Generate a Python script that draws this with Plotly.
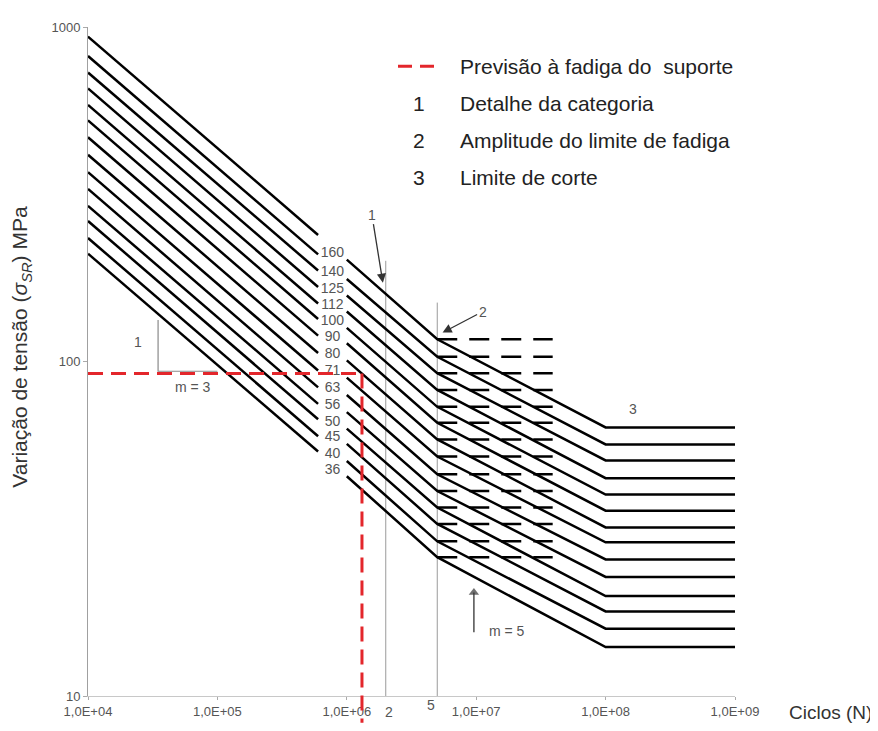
import math
import plotly.graph_objects as go

# ---------------- data ----------------
categories = [160, 140, 125, 112, 100, 90, 80, 71, 63, 56, 50, 45, 40, 36]
n_left = [1e4, 6e5]                  # cycles of the left (m=3) segment
n_right = [1e6, 5e6, 1e8, 1e9]       # cycles of the right segment (m=3, m=5, cut-off)
stress_1e4 = [936, 819, 731, 655, 585, 526, 468, 415, 368, 328, 292, 263, 234, 210]
stress_6e5 = [239, 209, 187, 167, 149, 134, 119.5, 106, 94, 83.7, 74.7, 67.2, 59.8, 53.8]
stress_1e6 = [201.6, 176.4, 157.5, 141.1, 126, 113.4, 100.8, 89.5, 79.4, 70.6, 63, 56.7, 50.4, 45.4]
stress_knee = [116.5, 103.3, 92.3, 82.2, 73.2, 65.6, 58.5, 52, 46, 41, 36.6, 32.7, 29, 26]
stress_cut = [63.5, 56.5, 50.6, 44.8, 40, 35.8, 31.9, 28.8, 25.6, 22.7, 19.9, 17.9, 15.9, 14]
dash_range_n = [5e6, 3.9e7]          # dashed constant-amplitude limit lines
ref_lines_n = [2e6, 5e6]             # thin vertical reference lines
ref_lines_top = [200, 150]
pred_n = 1.31e6                      # support fatigue prediction
pred_s = 92

x_tickvals = [1e4, 1e5, 1e6, 1e7, 1e8, 1e9]
x_ticktext = ["1,0E+04", "1,0E+05", "1,0E+06", "1,0E+07", "1,0E+08", "1,0E+09"]
y_tickvals = [10, 100, 1000]
y_ticktext = ["10", "100", "1000"]

legend_items = [("1", "Detalhe da categoria"),
                ("2", "Amplitude do limite de fadiga"),
                ("3", "Limite de corte")]
legend_pred = "Previsão à fadiga do  suporte"

# ---------------- figure ----------------
# page body has an 8px margin; the figure is sized so the plot area lands
# at x 88..735, y 20..700 of the 878x731 window
OFF = 8
W, H = 878 - OFF, 731 - OFF
PL, PR, PT, PB = 88, 735, 20, 700          # plot area in window pixels
L, T = PL - OFF, PT - OFF
R, B = 878 - PR, 731 - PB
PW, PH = PR - PL, PB - PT
sans = "Liberation Sans, Arial, sans-serif"
gray = "#555555"
LW = 2.5

fig = go.Figure()

# thin vertical reference lines
for n, top in zip(ref_lines_n, ref_lines_top):
    fig.add_trace(go.Scatter(x=[n, n], y=[top, 10], mode="lines",
                             line=dict(color="#9a9a9a", width=1),
                             hoverinfo="skip", showlegend=False))

# dashed constant amplitude lines
for s in stress_knee:
    fig.add_trace(go.Scatter(x=dash_range_n, y=[s, s], mode="lines",
                             line=dict(color="black", width=LW, dash="20px,12px"),
                             hoverinfo="skip", showlegend=False))

# S-N curves
for c, a, b, d, k, cut in zip(categories, stress_1e4, stress_6e5, stress_1e6,
                               stress_knee, stress_cut):
    xs = n_left + [None] + n_right
    ys = [a, b, None, d, k, cut, cut]
    fig.add_trace(go.Scatter(x=xs, y=ys, mode="lines",
                             line=dict(color="black", width=LW),
                             connectgaps=False, name=str(c),
                             hoverinfo="skip", showlegend=False))

# category labels in the gap
lab_x = [math.sqrt(n_left[1] * n_right[0])] * len(categories)
lab_y = [b ** 0.25 * d ** 0.75 for b, d in zip(stress_6e5, stress_1e6)]
fig.add_trace(go.Scatter(x=lab_x, y=lab_y, mode="text",
                         text=[str(c) for c in categories],
                         textfont=dict(family=sans, size=14, color=gray),
                         hoverinfo="skip", showlegend=False, cliponaxis=False))

# m = 3 slope triangle
tri_x = [3.48e4, 3.48e4, 1.0e5]
tri_y = [133, 93.5, 93.5]
fig.add_trace(go.Scatter(x=tri_x, y=tri_y, mode="lines",
                         line=dict(color="#8a8a8a", width=1.2),
                         hoverinfo="skip", showlegend=False))

# m = 5 arrow
fig.add_trace(go.Scatter(x=[9.6e6, 9.6e6], y=[15.5, 20.4], mode="lines+markers",
                         line=dict(color="#333", width=1.3),
                         marker=dict(symbol=["circle", "triangle-up"], size=[0, 9],
                                     color="#333", line=dict(width=0)),
                         hoverinfo="skip", showlegend=False))

red = "#e3262b"
shapes = [
    dict(type="line", xref="x", yref="y", x0=x_tickvals[0], x1=pred_n,
         y0=pred_s, y1=pred_s, line=dict(color=red, width=3, dash="15px,8px"),
         layer="above"),
    dict(type="line", xref="x", yref="paper", x0=pred_n, x1=pred_n,
         y0=(math.log10(pred_s) - 1) / 2, y1=-0.04,
         line=dict(color=red, width=3, dash="15px,8px"), layer="above"),
]


def px_x(p):
    return (p - PL) / PW


def px_y(p):
    return (PB - p) / PH


# legend sample
shapes.append(dict(type="line", xref="paper", yref="paper",
                   x0=px_x(398), x1=px_x(434), y0=px_y(60), y1=px_y(60),
                   line=dict(color=red, width=3, dash="14px,8px")))

ann = []
leg_font = dict(family=sans, size=21, color="#222")
ann.append(dict(xref="paper", yref="paper", x=px_x(458), y=px_y(60), text=legend_pred,
                showarrow=False, xanchor="left", yanchor="middle", font=leg_font))
for (num, txt), yy in zip(legend_items, [98, 135, 173]):
    ann.append(dict(xref="paper", yref="paper", x=px_x(419), y=px_y(yy), text=num,
                    showarrow=False, xanchor="center", yanchor="middle", font=leg_font))
    ann.append(dict(xref="paper", yref="paper", x=px_x(458), y=px_y(yy), text=txt,
                    showarrow=False, xanchor="left", yanchor="middle", font=leg_font))

# axis titles
ann.append(dict(xref="paper", yref="paper", x=px_x(21), y=px_y(345),
                text="Variação de tensão (<i>σ<sub>SR</sub></i>) MPa",
                textangle=-90, showarrow=False, xanchor="center", yanchor="middle",
                font=dict(family=sans, size=21, color="#333")))
ann.append(dict(xref="paper", yref="paper", x=px_x(874), y=px_y(717),
                text="Ciclos (N)", showarrow=False, xanchor="right", yanchor="middle",
                font=dict(family=sans, size=19, color="#333")))


def lg(v):
    return math.log10(v)


small = dict(family=sans, size=14, color=gray)
ann.append(dict(x=lg(1.9e6), y=lg(172), ax=-11, ay=-68, text="1", showarrow=True,
                arrowhead=2, arrowsize=1.4, arrowwidth=1.3, arrowcolor="#333",
                font=small))
ann.append(dict(x=lg(5.5e6), y=lg(122), ax=40, ay=-21, text="2", showarrow=True,
                arrowhead=2, arrowsize=1.4, arrowwidth=1.3, arrowcolor="#333",
                font=small))
ann.append(dict(x=lg(1.73e7), y=lg(15.6), text="m = 5", showarrow=False, font=small))
ann.append(dict(x=lg(1.63e8), y=lg(72.2), text="3", showarrow=False, font=small))
ann.append(dict(x=lg(2.43e4), y=lg(114.5), text="1", showarrow=False, font=small))
ann.append(dict(x=lg(6.47e4), y=lg(83.8), text="m = 3", showarrow=False, font=small))
ann.append(dict(x=lg(ref_lines_n[0]), y=0, yref="paper", yanchor="middle",
                yshift=-16, xshift=3, text="2", showarrow=False, font=small))
ann.append(dict(x=lg(ref_lines_n[1]), y=0, yref="paper", yanchor="middle",
                yshift=-9, xshift=-6, text="5", showarrow=False, font=small))

fig.update_layout(
    width=W, height=H, autosize=False,
    margin=dict(l=L, r=R, t=T, b=B, pad=0),
    paper_bgcolor="white", plot_bgcolor="white",
    shapes=shapes, annotations=ann, showlegend=False,
    xaxis=dict(type="log", range=[4, 9], tickvals=x_tickvals, ticktext=x_ticktext,
               showgrid=False, zeroline=False, showline=True, linecolor="#c8c8c8",
               linewidth=1, ticks="outside", ticklen=3, tickcolor="#aaa",
               tickfont=dict(family=sans, size=13, color=gray)),
    yaxis=dict(type="log", range=[1, 3], tickvals=y_tickvals, ticktext=y_ticktext,
               showgrid=False, zeroline=False, showline=True, linecolor="#a0a0a0",
               linewidth=1, ticks="outside", ticklen=4, tickcolor="#aaa",
               tickfont=dict(family=sans, size=13, color=gray)),
)

fig.write_html("out.html")
